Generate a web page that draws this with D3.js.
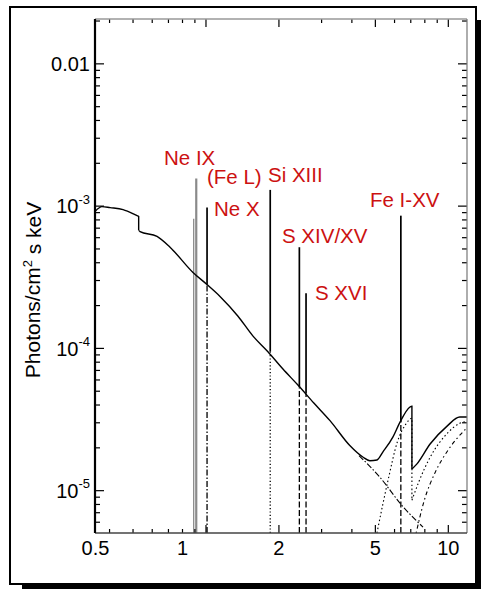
<!DOCTYPE html>
<html>
<head>
<meta charset="utf-8">
<script src="https://cdn.jsdelivr.net/npm/d3@7"></script>
<style>
body { margin: 0; background: #fff; }
svg text { font-family: "Liberation Sans", Arial, sans-serif; }
</style>
</head>
<body>
<svg id="chart" width="481" height="589"></svg>
<script>
// energy in keV, flux in photons / cm2 s keV
var totalSpectrum = [
    [0.35, 9.1e-4], [0.374, 9.84e-4], [0.404, 9.68e-4], [0.457, 9.37e-4], [0.522, 8.5e-4],
    [0.530, 8.4e-4], [0.530, 6.7e-4], [0.537, 6.57e-4], [0.631, 6.07e-4], [0.714, 5.1e-4],
    [0.888, 3.39e-4], [1.014, 2.79e-4], [1.148, 2.3e-4], [1.362, 1.67e-4], [1.571, 1.21e-4],
    [1.81, 9.4e-5], [2.088, 7.1e-5], [2.407, 5.48e-5], [2.8, 4.1e-5], [3.265, 3.08e-5],
    [3.94, 2.06e-5], [4.46, 1.71e-5], [4.77, 1.61e-5], [5.1, 1.63e-5], [5.40, 1.86e-5],
    [5.94, 2.37e-5], [6.35, 3.01e-5], [6.98, 3.84e-5], [7.11, 3.9e-5], [7.11, 1.41e-5],
    [7.46, 1.53e-5], [8.45, 2.11e-5], [9.93, 2.82e-5], [11.2, 3.27e-5], [12, 3.27e-5]
];
var softComponent = [[4.3, 1.75e-5], [5.25, 1.23e-5], [6.47, 7.8e-6], [7.9, 5.5e-6]];
var hardComponentA = [
    [5.1, 5e-6], [5.67, 1.18e-5], [6.2, 2.2e-5], [6.7, 2.9e-5], [7.11, 3.2e-5],
    [7.11, 8.5e-6], [7.6, 1.15e-5], [8.45, 1.7e-5], [9.93, 2.5e-5], [11.2, 2.95e-5], [12, 3.05e-5]
];
var hardComponentB = [[7.4, 5e-6], [8.0, 8.5e-6], [8.9, 1.35e-5], [10, 1.9e-5], [12, 2.75e-5]];

// emission lines
var lineEnergy = [0.894, 0.916, 1.015, 1.85, 2.44, 2.60, 6.40];
var linePeak   = [8.1e-4, 1.55e-3, 9.7e-4, 1.29e-3, 5.1e-4, 2.42e-4, 8.5e-4];
var lineBase   = [3.3e-4, 3.2e-4, 2.79e-4, 9.4e-5, 5.3e-5, 4.8e-5, 3.0e-5];
var lineStyle  = ["gray", "gray", "dashdot", "dotted", "dashed", "dashed", "dashed"];

var labelText = ["Ne IX", "(Fe L)", "Ne X", "Si XIII", "S XIV/XV", "S XVI", "Fe I-XV"];

var xMajorTicks = [1, 2, 5, 10];
var xMinorTicks = [0.4, 0.5, 0.6, 0.7, 0.8, 0.9, 3, 4, 6, 7, 8, 9];
var xLabelText = ["0.5", "1", "2", "5", "10"];
var xLabelAt = [0.35, 0.8, 2, 5, 10];   // where the labels sit in the figure
var yMajorTicks = [1e-5, 1e-4, 1e-3, 1e-2];
var yLabelBase = ["10", "10", "10", "0.01"];
var yLabelExp = ["-5", "-4", "-3", ""];

(function () {
var svg = d3.select("#chart");

// frame with drop shadow
svg.append("rect").attr("x", 22).attr("y", 20).attr("width", 459).attr("height", 569).attr("fill", "#000");
svg.append("rect").attr("x", 10).attr("y", 7).attr("width", 466).attr("height", 577)
    .attr("fill", "#fff").attr("stroke", "#000").attr("stroke-width", 2);

var pl = 95, pr = 467, pt = 19, pb = 533;

var x = d3.scaleLog().domain([0.35, 12]).range([pl, pr]);
var y = d3.scaleLog().domain([5e-6, 0.0205]).range([pb, pt]);

var yMinorTicks = [];
[1e-6, 1e-5, 1e-4, 1e-3, 1e-2].forEach(function (d) {
    for (var k = 2; k <= 9; k++) {
        var v = d * k;
        if (v >= 5e-6 && v <= 0.0205) yMinorTicks.push(v);
    }
});

svg.append("clipPath").attr("id", "plotclip").append("rect")
    .attr("x", pl).attr("y", pt).attr("width", pr - pl).attr("height", pb - pt);

var g = svg.append("g").attr("clip-path", "url(#plotclip)");

var line = d3.line().curve(d3.curveMonotoneX)
    .x(function (d) { return x(d[0]); }).y(function (d) { return y(d[1]); });

// the edges are vertical jumps: split a series where the energy repeats
function segments(data) {
    var out = [[data[0]]];
    for (var i = 1; i < data.length; i++) {
        if (data[i][0] === data[i - 1][0]) {
            out[out.length - 1].push(data[i]);
            out.push([data[i]]);
        } else {
            out[out.length - 1].push(data[i]);
        }
    }
    return out;
}

function drawSeries(data, width, dash) {
    segments(data).forEach(function (seg) {
        var p = g.append("path").datum(seg).attr("d", line)
            .attr("fill", "none").attr("stroke", "#000").attr("stroke-width", width);
        if (dash) p.attr("stroke-dasharray", dash);
    });
}

// components
drawSeries(softComponent, 1.1, "6,2,1.5,2");
drawSeries(hardComponentA, 1.1, "1.5,2.5");
drawSeries(hardComponentB, 1.1, "1.5,3,4,3");

var dashes = { dashdot: "6,2,1.5,2", dotted: "1.2,2.2", dashed: "6,2.5" };

// line components from the bottom of the plot
d3.range(lineEnergy.length).forEach(function (i) {
    var s = lineStyle[i];
    var l = g.append("line")
        .attr("x1", x(lineEnergy[i])).attr("x2", x(lineEnergy[i]))
        .attr("y1", y(5e-6))
        .attr("y2", s === "gray" ? y(linePeak[i]) : y(lineBase[i]));
    if (s === "gray") {
        l.attr("stroke", "#8a8a8a").attr("stroke-width", i === 1 ? 2.2 : 1.3);
    } else {
        l.attr("stroke", "#000").attr("stroke-width", 1.3).attr("stroke-dasharray", dashes[s]);
    }
});

// total model
drawSeries(totalSpectrum, 1.4, null);

d3.range(lineEnergy.length).forEach(function (i) {
    if (lineStyle[i] === "gray") return;
    g.append("line")
        .attr("x1", x(lineEnergy[i])).attr("x2", x(lineEnergy[i]))
        .attr("y1", y(lineBase[i])).attr("y2", y(linePeak[i]))
        .attr("stroke", "#000").attr("stroke-width", 1.7);
});

// axes
function tickAxis(axis, pos, values, size) {
    var a = svg.append("g").attr("transform", pos)
        .call(axis.tickValues(values).tickSize(size).tickFormat(""));
    a.select(".domain").remove();
    a.selectAll("line").attr("stroke", "#000").attr("stroke-width", 1.2);
    return a;
}
tickAxis(d3.axisBottom(x), "translate(0," + pb + ")", xMinorTicks, -4);
tickAxis(d3.axisBottom(x), "translate(0," + pb + ")", xMajorTicks, -8);
tickAxis(d3.axisTop(x), "translate(0," + pt + ")", xMinorTicks, -4);
tickAxis(d3.axisTop(x), "translate(0," + pt + ")", xMajorTicks, -8);
tickAxis(d3.axisLeft(y), "translate(" + pl + ",0)", yMinorTicks, -5);
tickAxis(d3.axisLeft(y), "translate(" + pl + ",0)", yMajorTicks, -9);
tickAxis(d3.axisRight(y), "translate(" + pr + ",0)", yMinorTicks, -5);
tickAxis(d3.axisRight(y), "translate(" + pr + ",0)", yMajorTicks, -9);

// plot frame lines
svg.append("line").attr("x1", pl).attr("x2", pr).attr("y1", pt).attr("y2", pt)
    .attr("stroke", "#999").attr("stroke-width", 1.5);
svg.append("line").attr("x1", pr).attr("x2", pr).attr("y1", pt).attr("y2", pb)
    .attr("stroke", "#777").attr("stroke-width", 1.2);
svg.append("line").attr("x1", pl).attr("x2", pr).attr("y1", pb).attr("y2", pb)
    .attr("stroke", "#444").attr("stroke-width", 1.5);
svg.append("line").attr("x1", pl).attr("x2", pl).attr("y1", pt).attr("y2", pb)
    .attr("stroke", "#000").attr("stroke-width", 2.2);

// x tick labels
var xl = svg.append("g").attr("transform", "translate(0," + pb + ")")
    .call(d3.axisBottom(x).tickValues(xLabelAt).tickSize(0).tickPadding(8)
        .tickFormat(function (d, i) { return xLabelText[i]; }));
xl.select(".domain").remove();
xl.selectAll("text").attr("font-size", 20).attr("fill", "#000")
    .style("font-family", "'Liberation Sans', Arial, sans-serif");

// y tick labels with exponents
var yl = svg.append("g").attr("transform", "translate(" + pl + ",0)")
    .call(d3.axisLeft(y).tickValues(yMajorTicks).tickSize(0).tickPadding(5).tickFormat(""));
yl.select(".domain").remove();
yl.selectAll(".tick").each(function (d, i) {
    var t = d3.select(this).select("text")
        .attr("font-size", 20).attr("fill", "#000").attr("dy", "0.36em")
        .style("font-family", "'Liberation Sans', Arial, sans-serif");
    t.text(null);
    t.append("tspan").text(yLabelBase[i]);
    if (yLabelExp[i]) {
        t.append("tspan").attr("font-size", 13).attr("dy", "-0.75em").text(yLabelExp[i]);
    }
});

// y axis title
var yt = svg.append("text")
    .attr("transform", "translate(40,290) rotate(-90)")
    .attr("text-anchor", "middle").attr("font-size", 21).attr("fill", "#000");
yt.append("tspan").text("Photons/cm");
yt.append("tspan").attr("font-size", 13).attr("dy", "-0.6em").text("2");
yt.append("tspan").attr("dy", "0.4em").text(" s keV");

// line annotations
var labelPos = [[164, 165], [207, 184], [214, 216], [268, 182], [282, 243], [315, 300], [370, 207]];
svg.selectAll(".ann").data(labelText).enter().append("text")
    .attr("class", "ann")
    .attr("x", function (d, i) { return labelPos[i][0]; })
    .attr("y", function (d, i) { return labelPos[i][1]; })
    .attr("font-size", 20.5).attr("fill", "#cc1111")
    .text(function (d) { return d; });
})();
</script>
</body>
</html>
